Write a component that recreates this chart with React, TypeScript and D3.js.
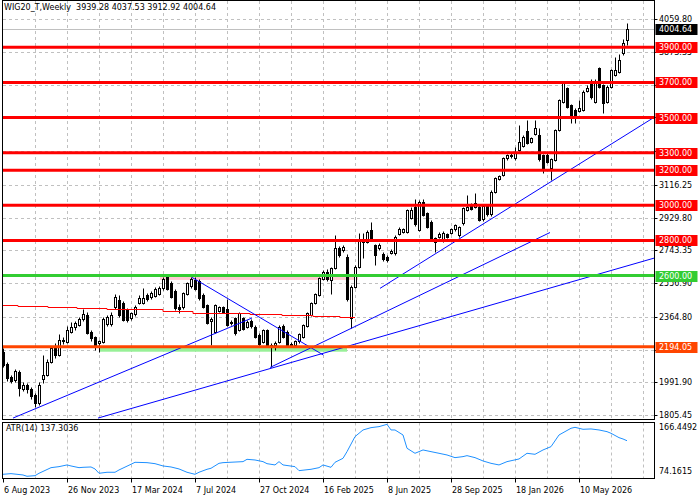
import * as d3 from "d3";

// WIG20 weekly, week index 0 = 6 Aug 2023
const opens = [
  2166, 2095, 2020, 2005, 2049, 1952, 1975, 1952, 1919, 1872, 2009, 2033, 2109, 2190, 2150, 2232, 2223, 2281, 2309, 2318,
  2350, 2375, 2280, 2250, 2214, 2220, 2325, 2322, 2422, 2460, 2443, 2404, 2358, 2380, 2443, 2443, 2489, 2476, 2485, 2495,
  2527, 2590, 2559, 2514, 2422, 2419, 2495, 2540, 2575, 2569, 2489, 2432, 2340, 2280, 2400, 2419, 2408, 2330, 2356, 2290,
  2356, 2309, 2340, 2309, 2261, 2223, 2290, 2204, 2205, 2223, 2314, 2280, 2210, 2204, 2225, 2252, 2312, 2375, 2442, 2489,
  2580, 2622, 2575, 2641, 2755, 2745, 2708, 2356, 2537, 2650, 2800, 2793, 2860, 2774, 2755, 2723, 2708, 2730, 2727, 2837,
  2850, 2850, 2930, 2990, 2860, 3021, 2954, 2907, 2812, 2821, 2800, 2835, 2844, 2863, 2831, 2897, 2975, 3002, 2992, 2992,
  2920, 2995, 2950, 3078, 3150, 3173, 3268, 3283, 3268, 3315, 3340, 3425, 3363, 3406, 3400, 3287, 3287, 3211, 3258, 3429,
  3590, 3667, 3572, 3543, 3540, 3543, 3653, 3710, 3590, 3781, 3686, 3590, 3676, 3742, 3761, 3866, 3939.28,
];
const highs = [
  2185, 2105, 2035, 2067, 2060, 1993, 1985, 1965, 1930, 1993, 2150, 2125, 2200, 2215, 2265, 2250, 2310, 2335, 2340, 2365,
  2408, 2390, 2290, 2258, 2235, 2365, 2375, 2395, 2495, 2490, 2455, 2415, 2395, 2430, 2490, 2529, 2500, 2510, 2535, 2540,
  2590, 2603, 2568, 2522, 2435, 2505, 2565, 2593, 2590, 2578, 2498, 2440, 2365, 2440, 2428, 2428, 2464, 2345, 2365, 2395,
  2366, 2345, 2352, 2318, 2270, 2298, 2298, 2215, 2225, 2318, 2322, 2288, 2220, 2235, 2275, 2325, 2392, 2450, 2502, 2592,
  2630, 2635, 2648, 2831, 2770, 2775, 2720, 2545, 2660, 2842, 2845, 2858, 2907, 2782, 2785, 2735, 2718, 2752, 2830, 2875,
  2872, 2980, 2990, 3034, 3030, 3035, 2962, 2915, 2822, 2848, 2852, 2842, 2870, 2895, 2885, 2990, 3059, 3012, 3068, 3000,
  3002, 3005, 3085, 3160, 3175, 3275, 3295, 3300, 3330, 3458, 3398, 3486, 3390, 3486, 3440, 3295, 3296, 3270, 3436, 3608,
  3705, 3676, 3580, 3552, 3600, 3655, 3686, 3720, 3718, 3790, 3694, 3684, 3778, 3847, 3860, 3945, 4037.53,
];
const lows = [
  2080, 2000, 1990, 1995, 1914, 1945, 1930, 1895, 1849, 1862, 1990, 2025, 2100, 2130, 2140, 2210, 2215, 2275, 2290, 2310,
  2340, 2265, 2225, 2176, 2166, 2215, 2315, 2315, 2410, 2365, 2340, 2335, 2345, 2372, 2435, 2435, 2455, 2465, 2478, 2488,
  2520, 2515, 2472, 2405, 2386, 2410, 2488, 2530, 2515, 2462, 2415, 2325, 2204, 2270, 2392, 2388, 2310, 2320, 2262, 2282,
  2288, 2300, 2300, 2245, 2200, 2215, 2196, 2080, 2175, 2215, 2245, 2198, 2192, 2195, 2218, 2245, 2305, 2368, 2435, 2482,
  2572, 2570, 2493, 2635, 2705, 2735, 2455, 2299, 2530, 2645, 2700, 2785, 2795, 2660, 2745, 2682, 2675, 2720, 2718, 2830,
  2840, 2842, 2922, 2885, 2852, 2938, 2870, 2805, 2736, 2812, 2790, 2812, 2836, 2855, 2822, 2890, 2968, 2972, 2985, 2908,
  2912, 2940, 2942, 3070, 3142, 3165, 3260, 3270, 3260, 3308, 3330, 3350, 3355, 3398, 3255, 3182, 3240, 3144, 3250, 3422,
  3582, 3555, 3467, 3467, 3532, 3535, 3645, 3605, 3582, 3668, 3524, 3582, 3668, 3735, 3752, 3855, 3912.92,
];
const closes = [
  2090, 2015, 2001, 2056, 1957, 1976, 1955, 1914, 1872, 1976, 2033, 2109, 2185, 2150, 2232, 2225, 2290, 2309, 2328, 2350,
  2380, 2274, 2242, 2204, 2227, 2350, 2362, 2375, 2480, 2375, 2347, 2347, 2386, 2422, 2472, 2472, 2466, 2499, 2523, 2527,
  2580, 2522, 2480, 2413, 2408, 2499, 2559, 2580, 2522, 2470, 2422, 2331, 2350, 2432, 2419, 2395, 2318, 2337, 2271, 2388,
  2294, 2337, 2310, 2252, 2210, 2290, 2204, 2200, 2215, 2309, 2252, 2204, 2200, 2225, 2265, 2318, 2385, 2442, 2495, 2584,
  2622, 2580, 2641, 2755, 2717, 2764, 2465, 2537, 2650, 2802, 2790, 2850, 2802, 2717, 2774, 2693, 2689, 2741, 2821, 2865,
  2863, 2973, 2975, 2895, 3021, 2945, 2878, 2812, 2793, 2837, 2845, 2820, 2863, 2888, 2878, 2983, 2992, 2980, 3011, 2916,
  2995, 2950, 3078, 3154, 3165, 3268, 3287, 3285, 3305, 3362, 3391, 3357, 3382, 3439, 3262, 3211, 3249, 3262, 3429, 3600,
  3695, 3562, 3496, 3515, 3553, 3648, 3667, 3615, 3710, 3676, 3581, 3676, 3771, 3771, 3828, 3926, 4004.64,
];

// ATR(14) readings: week index and value
const atrWeeks = [
  0, 2, 5, 6, 8, 9, 12, 14, 16, 17, 19, 20, 22, 23, 24, 26, 28, 29, 32, 33, 36, 38, 40, 42, 44, 46, 48, 49, 51, 52,
  54, 55, 60, 61, 63, 65, 66, 68, 69, 70, 73, 74, 77, 79, 80, 82, 83, 85, 86, 88, 90, 92, 94, 96, 97, 98, 100, 101,
  103, 105, 107, 109, 111, 113, 115, 116, 118, 120, 122, 124, 126, 129, 131, 133, 135, 137, 139, 142, 143, 145, 147,
  149, 151, 152, 154, 155, 156,
];
const atrValues = [
  77.7, 78.9, 76.5, 74.2, 75.3, 79.5, 89.5, 91.3, 94.3, 92.5, 89.5, 90.1, 90.7, 87.2, 79.5, 81.3, 81.3, 85.4, 95.5, 99.0,
  98.4, 96.6, 92.5, 90.7, 87.2, 81.3, 77.7, 81.3, 86.6, 88.4, 97.2, 98.4, 100.2, 104.3, 103.1, 100.2, 96.6, 94.3, 100.2,
  94.3, 91.3, 84.2, 86.6, 89.5, 94.3, 90.1, 99.0, 106.1, 117.9, 144.6, 156.4, 160.5, 162.3, 166.4, 156.4, 156.4, 147.5,
  123.9, 115.0, 120.9, 117.9, 115.0, 112.0, 107.3, 109.1, 110.8, 107.3, 101.4, 97.2, 94.3, 100.2, 104.9, 115.0, 113.2,
  120.9, 126.8, 147.5, 159.4, 161.1, 157.6, 158.2, 156.4, 153.4, 150.5, 142.8, 140.4, 137.3,
];

const dateWeeks = [0, 16, 32, 48, 64, 80, 96, 112, 128, 144];
const dateLabels = [
  "6 Aug 2023", "26 Nov 2023", "17 Mar 2024", "7 Jul 2024", "27 Oct 2024",
  "16 Feb 2025", "8 Jun 2025", "28 Sep 2025", "18 Jan 2026", "10 May 2026",
];
const priceTicks = [
  4059.8, 3873.35, 3686.9, 3500.45, 3309.7, 3116.25, 2929.8, 2743.35, 2556.9, 2364.8, 2178.35, 1991.9, 1805.45,
];

const redLevels = [3900, 3700, 3500, 3300, 3200, 3000, 2800];
const greenLevel = 2600;
const supportLevel = 2194.05;
const lastPrice = 4004.64;

// zones as [week from, week to, price low, price high]
const greenZone = [24.25, 86, 2166, 2194.05];
const pinkZone = [39.25, 88.75, 2575, 2600];

// trend lines as [week, price, week, price]
const trendLines = [
  [2.5, 1788, 62.25, 2358],
  [23.75, 1788, 162.9, 2700],
  [66.75, 2076, 136.75, 2845],
  [94.25, 2527, 162.9, 3503],
  [47.2, 2590, 80.1, 2147],
];

// stepped average
const maWeeks = [0, 3.75, 11.25, 18.5, 26, 40, 47.5, 61.75, 69.75, 77.5, 84.25, 88];
const maValues = [2432, 2427, 2419, 2413, 2408, 2397, 2389, 2383, 2375, 2369, 2362, 2362];

const ATR_MIN = 74.1615;
const ATR_MAX = 166.4492;

const FONT = "DejaVu Sans";
const PLOT_RIGHT = 654.5;
const PLOT_BOTTOM = 419.5;
const ATR_TOP = 422.5;
const ATR_BOTTOM = 478.5;

export default function App() {
  const x = d3.scaleLinear().domain([0, 156]).range([3, 627]);
  const y = d3.scaleLinear().domain([1805.45, 4059.8]).range([415, 19.3]);
  const ay = d3.scaleLinear().domain([ATR_MIN, ATR_MAX]).range([476.3, 424.3]);
  const snap = (v: number) => Math.round(v) + 0.5;

  const gridWeeks = d3.range(8, 161, 8);
  const boxed = [...redLevels, greenLevel, supportLevel, lastPrice];
  // a scale label that sits right under a level box is not drawn (MT4 hides it)
  const visibleTicks = priceTicks.filter((p) => boxed.every((b) => Math.abs(y(b) - y(p)) > 2.5));

  const atrLine = d3
    .line<number>()
    .x((_, i) => x(atrWeeks[i]))
    .y((d) => ay(d))(atrValues) ?? "";

  const maLine = d3
    .line<number>()
    .x((_, i) => x(maWeeks[i]))
    .y((d) => snap(y(d)))
    .curve(d3.curveStepAfter)(maValues) ?? "";

  const box = (value: number, fill: string, label: string, key: string) => {
    const cy = y(value);
    return (
      <g key={key}>
        <rect x={655.5} y={Math.round(cy) - 5} width={42} height={11} fill={fill} />
        <text x={659} y={cy + 3} fill="#fff">
          {label}
        </text>
      </g>
    );
  };

  return (
    <svg
      width={700}
      height={500}
      style={{ position: "absolute", left: 0, top: 0, background: "#fff" }}
      fontFamily={FONT}
      fontSize={8}
    >
      <defs>
        <clipPath id="plot">
          <rect x={3} y={1} width={PLOT_RIGHT - 3} height={PLOT_BOTTOM - 1} />
        </clipPath>
        <clipPath id="atr">
          <rect x={3} y={ATR_TOP + 0.5} width={PLOT_RIGHT - 3} height={ATR_BOTTOM - ATR_TOP - 1} />
        </clipPath>
      </defs>
      <rect width={700} height={500} fill="#fff" />

      {/* grid */}
      <g stroke="#c0c0c0" strokeDasharray="3,3">
        {gridWeeks.map((w) => (
          <g key={w}>
            <line x1={snap(x(w))} x2={snap(x(w))} y1={1} y2={PLOT_BOTTOM} />
            <line x1={snap(x(w))} x2={snap(x(w))} y1={ATR_TOP} y2={ATR_BOTTOM} />
          </g>
        ))}
        {priceTicks.map((p) => (
          <line key={p} x1={3} x2={PLOT_RIGHT} y1={snap(y(p))} y2={snap(y(p))} />
        ))}
      </g>

      <g clipPath="url(#plot)">
        <rect
          x={x(greenZone[0])}
          width={x(greenZone[1]) - x(greenZone[0])}
          y={y(greenZone[3])}
          height={y(greenZone[2]) - y(greenZone[3])}
          fill="#98f098"
        />
        <rect
          x={x(pinkZone[0])}
          width={x(pinkZone[1]) - x(pinkZone[0])}
          y={y(pinkZone[3])}
          height={y(pinkZone[2]) - y(pinkZone[3])}
          fill="#ffc8d0"
        />
        <line x1={3} x2={PLOT_RIGHT} y1={snap(y(lastPrice))} y2={snap(y(lastPrice))} stroke="#c0c0c0" />

        {/* candles */}
        {closes.map((c, i) => {
          const o = opens[i];
          const cx = snap(x(i));
          const top = snap(y(Math.max(o, c)));
          const bot = snap(y(Math.min(o, c)));
          const bull = c >= o;
          return (
            <g key={i}>
              <line x1={cx} x2={cx} y1={snap(y(highs[i]))} y2={snap(y(lows[i]))} stroke="#000" />
              <rect
                x={cx - 1}
                y={top}
                width={2}
                height={Math.max(bot - top, 0)}
                fill={bull ? "#fff" : "#000"}
                stroke="#000"
              />
            </g>
          );
        })}

        <path d={maLine} fill="none" stroke="#ff0000" />
        {trendLines.map((t, i) => (
          <line key={i} x1={x(t[0])} y1={y(t[1])} x2={x(t[2])} y2={y(t[3])} stroke="#0000ff" />
        ))}
        {redLevels.map((p) => (
          <line key={p} x1={3} x2={PLOT_RIGHT} y1={y(p)} y2={y(p)} stroke="#ff0000" strokeWidth={3} />
        ))}
        <line x1={3} x2={PLOT_RIGHT} y1={y(greenLevel)} y2={y(greenLevel)} stroke="#32cd32" strokeWidth={3} />
        <line x1={3} x2={PLOT_RIGHT} y1={y(supportLevel)} y2={y(supportLevel)} stroke="#ff4500" strokeWidth={3} />
      </g>

      <text x={4} y={10} fill="#000" style={{ whiteSpace: "pre" }}>
        {"WIG20_T,Weekly  3939.28 4037.53 3912.92 4004.64"}
      </text>

      {/* frames */}
      <rect x={2.5} y={0.5} width={PLOT_RIGHT - 2.5} height={PLOT_BOTTOM - 0.5} fill="none" stroke="#000" />
      <rect x={2.5} y={ATR_TOP} width={PLOT_RIGHT - 2.5} height={ATR_BOTTOM - ATR_TOP} fill="none" stroke="#000" />

      {/* price axis */}
      {priceTicks.map((p) => (
        <line key={p} x1={PLOT_RIGHT} x2={PLOT_RIGHT + 3} y1={snap(y(p))} y2={snap(y(p))} stroke="#000" />
      ))}
      {visibleTicks.map((p) => (
        <text key={p} x={659} y={y(p) + 3} fill="#000">
          {p.toFixed(2)}
        </text>
      ))}
      {redLevels.map((p) => box(p, "#ff0000", p.toFixed(2), `r${p}`))}
      {box(greenLevel, "#32cd32", greenLevel.toFixed(2), "g")}
      {box(supportLevel, "#ff4500", supportLevel.toFixed(2), "s")}
      {box(lastPrice, "#000", lastPrice.toFixed(2), "last")}

      {/* ATR panel */}
      <g clipPath="url(#atr)">
        <path d={atrLine} fill="none" stroke="#1e90ff" />
      </g>
      <text x={6} y={431} fill="#000">
        ATR(14) 137.3036
      </text>
      <text x={659} y={430} fill="#000">
        {ATR_MAX.toFixed(4)}
      </text>
      <text x={659} y={474} fill="#000">
        {ATR_MIN.toFixed(4)}
      </text>

      {/* time axis */}
      {dateWeeks.map((w, i) => (
        <g key={w}>
          <line x1={snap(x(w))} x2={snap(x(w))} y1={ATR_BOTTOM} y2={ATR_BOTTOM + 4} stroke="#000" />
          <text x={x(w) + 1} y={493} fill="#000">
            {dateLabels[i]}
          </text>
        </g>
      ))}
    </svg>
  );
}
